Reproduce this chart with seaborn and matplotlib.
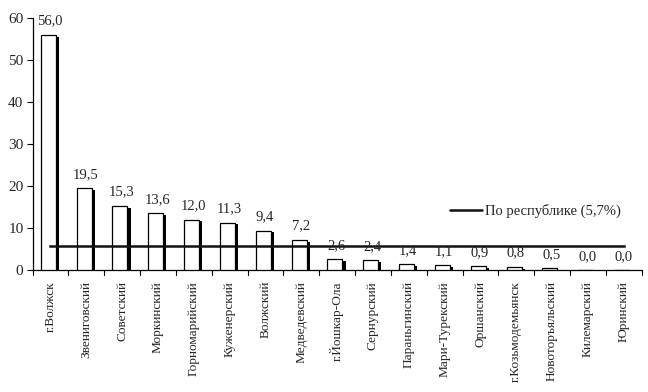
import matplotlib
matplotlib.use("Agg")
import matplotlib.pyplot as plt
import seaborn as sns
import numpy as np
import pandas as pd
from matplotlib.lines import Line2D

categories = ["г.Волжск", "Звениговский", "Советский", "Моркинский", "Горномарийский",
              "Куженерский", "Волжский", "Медведевский", "г.Йошкар-Ола", "Сернурский",
              "Параньгинский", "Мари-Турекский", "Оршанский", "г.Козьмодемьянск",
              "Новоторъяльский", "Килемарский", "Юринский"]
values = [56.0, 19.5, 15.3, 13.6, 12.0, 11.3, 9.4, 7.2, 2.6, 2.4, 1.4, 1.1, 0.9, 0.8, 0.5, 0.0, 0.0]
republic_value = 5.7
legend_label = "По республике (5,7%)"
yticks = [0, 10, 20, 30, 40, 50, 60]

sns.set_theme(style="white")
plt.rcParams['font.family'] = ['Liberation Serif', 'DejaVu Serif']

df = pd.DataFrame({"cat": categories, "val": values})
shadow_df = pd.DataFrame({"cat": categories, "val": [max(v - 0.45, 0) for v in values]})

fig = plt.figure(figsize=(6.48, 3.92), dpi=100)
ax_left, ax_right, ax_top, ax_bottom = 32.5, 641.7, 18, 270
ax = fig.add_axes([ax_left/648, 1 - ax_bottom/392, (ax_right-ax_left)/648, (ax_bottom-ax_top)/392])

bw = 0.42
shift = -0.06
sdx = 0.085

sns.barplot(data=shadow_df, x="cat", y="val", color="black", width=bw, ax=ax,
            saturation=1, linewidth=0, zorder=2)
for p in ax.patches:
    p.set_x(p.get_x() + shift + sdx)
n_shadow = len(ax.patches)
sns.barplot(data=df, x="cat", y="val", color="white", width=bw, ax=ax,
            saturation=1, edgecolor="black", linewidth=0.9, zorder=3)
for p in ax.patches[n_shadow:]:
    p.set_x(p.get_x() + shift)
    p.set_zorder(3)

# value labels
for i, v in enumerate(values):
    ax.text(i + shift + sdx / 2, v + 1.7, f"{v:.1f}".replace(".", ","),
            ha="center", va="bottom", fontsize=10.5, zorder=5)

# republic line
xs = np.arange(len(categories))
ax.plot(xs, [republic_value] * len(xs), color="#111111", lw=1.8, zorder=4,
        solid_capstyle="projecting")

ax.set_xlim(-0.5, len(categories) - 0.5)
ax.set_ylim(0, 60)
ax.set_yticks(yticks)
ax.set_yticklabels([str(t) for t in yticks], fontsize=11)
ax.set_xticks(xs)
ax.set_xticklabels(categories, rotation=90, fontsize=9.6, va="top", ha="center")
ax.tick_params(axis="x", length=0, pad=8)
ax.tick_params(axis="y", direction="out", length=4, width=0.8, color="black", left=True, pad=2.5)
# boundary ticks on x
for b in np.arange(-0.5, len(categories), 1.0):
    ax.plot([b, b], [0, -1.2], color="black", lw=0.8, clip_on=False, zorder=5)
ax.set_xlabel("")
ax.set_ylabel("")
for s in ["top", "right"]:
    ax.spines[s].set_visible(False)
for s in ["left", "bottom"]:
    ax.spines[s].set_color("black")
    ax.spines[s].set_linewidth(0.9)

handle = Line2D([0], [0], color="#111111", lw=1.8)
ax.legend([handle], [legend_label], loc="center",
          bbox_to_anchor=((535 - ax_left) / (ax_right - ax_left), (ax_bottom - 211) / (ax_bottom - ax_top)),
          frameon=False, fontsize=10.5, handlelength=2.2, handletextpad=0.2)

fig.savefig("out.png", dpi=100)
